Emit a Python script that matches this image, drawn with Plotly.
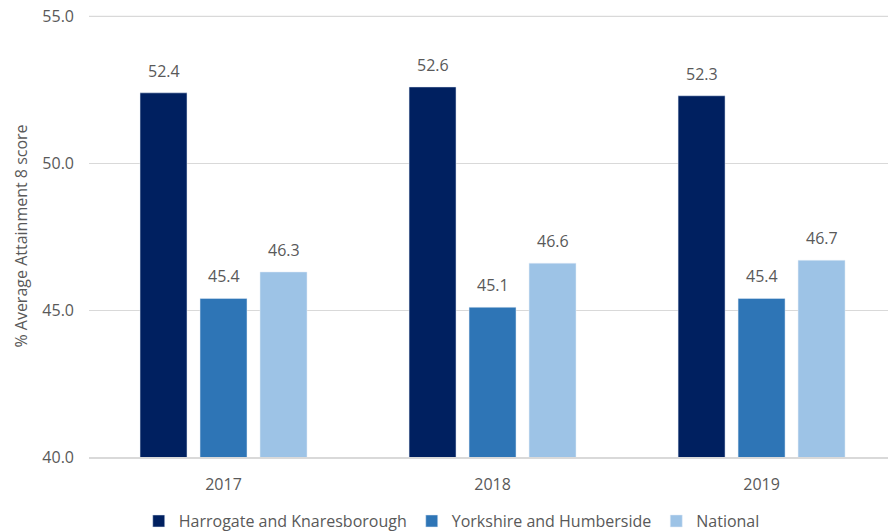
import plotly.graph_objects as go

years = ["2017", "2018", "2019"]
harrogate = [52.4, 52.6, 52.3]
yorkshire = [45.4, 45.1, 45.4]
national = [46.3, 46.6, 46.7]
series_names = ["Harrogate and Knaresborough", "Yorkshire and Humberside", "National"]
colors = ["#002060", "#2E75B6", "#9DC3E6"]
ytick_vals = [40, 45, 50, 55]

font_family = "Open Sans, Liberation Sans, sans-serif"
txt_color = "#595959"
grid_color = "#D9D9D9"
fs = 16

fig = go.Figure()
all_series = [harrogate, yorkshire, national]
for name, vals, col in zip(series_names, all_series, colors):
    fig.add_trace(go.Bar(x=years, y=vals, name=name, marker_color=col))

# data labels above each bar (category index on the category axis)
slot_px = 60
for i, vals in enumerate(all_series):
    for j, v in enumerate(vals):
        fig.add_annotation(x=j, y=v, xref="x", yref="y", text=f"{v:.1f}",
                           showarrow=False, yanchor="bottom", yshift=9,
                           xshift=(i - 1) * slot_px,
                           font=dict(size=fs, color=txt_color, family=font_family))

# top gridline (plotly skips the gridline on the range edge)
fig.add_shape(type="line", xref="paper", x0=0, x1=1, yref="y",
              y0=max(ytick_vals), y1=max(ytick_vals),
              line=dict(color=grid_color, width=1.3), layer="below")

fig.update_layout(
    width=888, height=532,
    margin=dict(l=89, r=0, t=15, b=75, autoexpand=False),
    paper_bgcolor="white", plot_bgcolor="white",
    barmode="group", bargap=0.331, bargroupgap=0.217,
    font=dict(family=font_family, size=fs, color=txt_color),
    showlegend=True,
    legend=dict(orientation="h", x=0.454, xanchor="center", y=-0.145, yanchor="middle",
                font=dict(size=fs, color=txt_color), traceorder="normal",
                itemwidth=30),
    xaxis=dict(type="category", range=[-0.5, 2.47], showgrid=False, showline=True,
               linecolor=grid_color, linewidth=1.5, ticks="", automargin=False,
               ticklabelstandoff=12,
               tickfont=dict(size=fs, color=txt_color)),
    yaxis=dict(range=[40, 55.05], tickvals=ytick_vals, tickformat=".1f",
               showgrid=True, gridcolor=grid_color, gridwidth=1.3, zeroline=False,
               showline=False, ticks="", ticklabelstandoff=14, automargin=False,
               ticklabeloverflow="allow",
               tickfont=dict(size=fs, color=txt_color),
               title=dict(text="% Average Attainment 8 score", standoff=10,
                          font=dict(size=fs, color=txt_color))),
)
fig.write_html("out.html", config={"displayModeBar": False},
               post_script="document.body.style.margin='0';document.body.style.overflow='hidden';")
